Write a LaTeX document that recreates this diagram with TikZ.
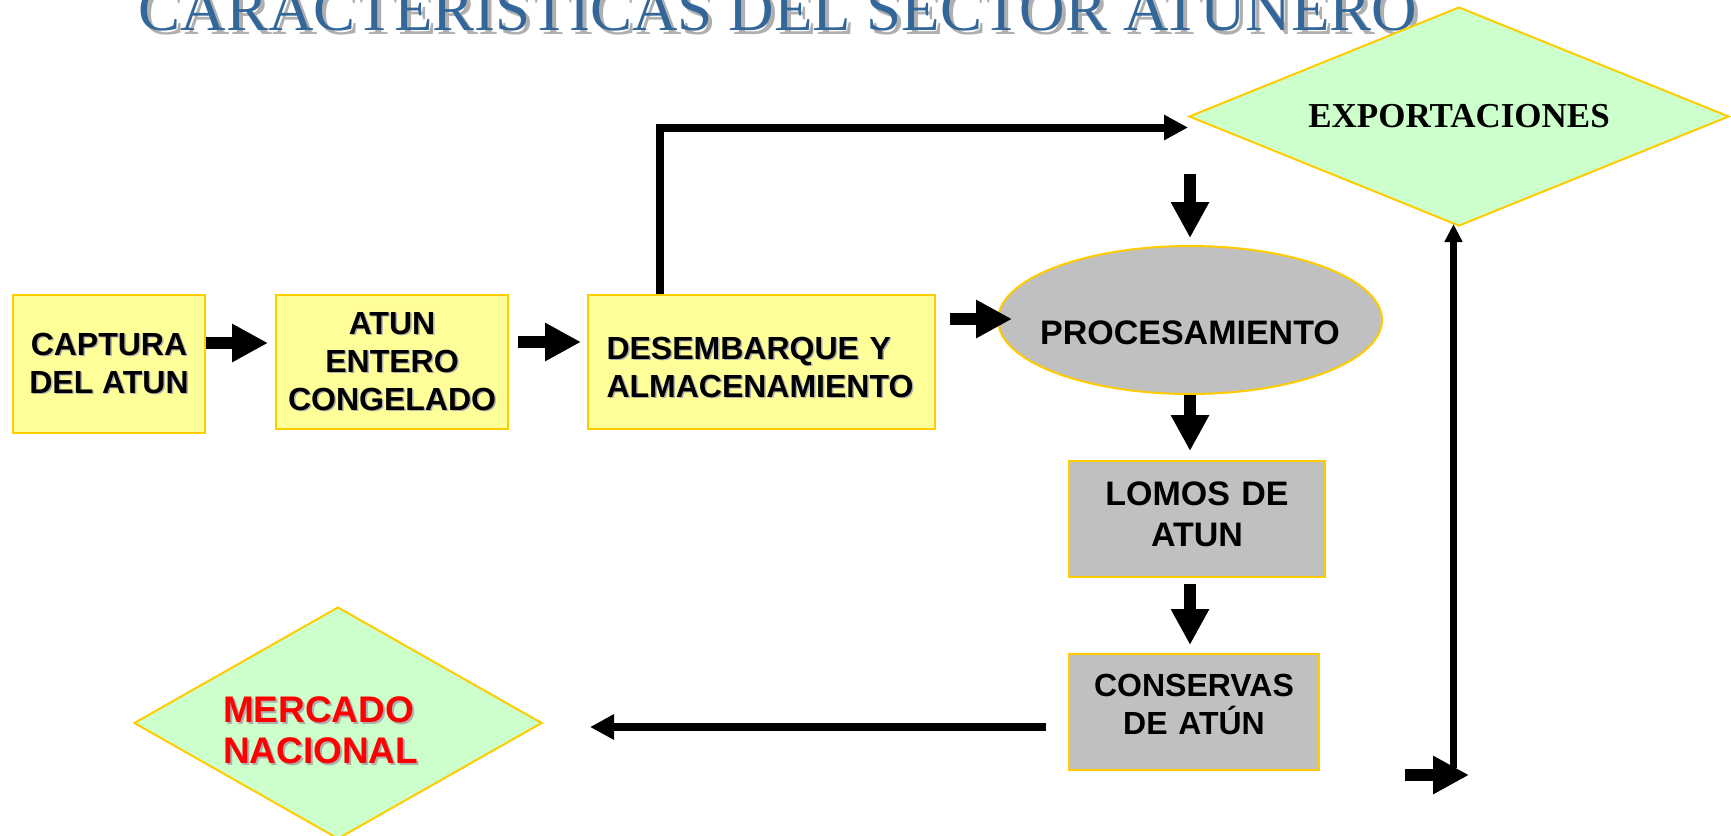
\documentclass[tikz,border=0pt]{standalone}
\usepackage{fontspec}
\setmainfont{Liberation Serif}
\setsansfont{Liberation Sans}
\usepackage{tikz}
\usetikzlibrary{shapes.geometric, arrows.meta, calc}
\definecolor{boxyellow}{RGB}{255,255,153}
\definecolor{boxgray}{RGB}{192,192,192}
\definecolor{boxgreen}{RGB}{204,255,204}
\definecolor{edgegold}{RGB}{255,204,0}
\definecolor{titleblue}{RGB}{51,102,153}
\definecolor{shadowgray}{RGB}{175,175,175}
\newcommand{\txtshadow}[2][1.5pt]{\leavevmode\rlap{\kern#1\raisebox{-#1}{\textcolor{shadowgray}{#2}}}#2}

\begin{document}
\begin{tikzpicture}[
    x=1pt, y=-1pt,
    flowbox/.style={draw=edgegold, line width=2pt, align=center, inner sep=0pt,
        font=\sffamily\bfseries\fontsize{32}{38}\selectfont},
    yellowbox/.style={flowbox, fill=boxyellow},
    graybox/.style={flowbox, fill=boxgray},
    market/.style={diamond, draw=edgegold, line width=2pt, fill=boxgreen, inner sep=0pt},
    blockarrow/.style={line width=12.5pt, -{Triangle[length=36pt, width=36pt]}},
    flowarrow/.style={line width=8pt, -{Triangle[length=24pt, width=24pt]}}
]
    \useasboundingbox (0,0) rectangle (1731,835);

    % Title
    \node[anchor=base, text=titleblue, font=\rmfamily\fontsize{63}{70}\selectfont] (title) at (778,30)
        {\txtshadow[4pt]{CARACTERISTICAS DEL SECTOR ATUNERO}};

    % Main chain
    \node[yellowbox, minimum width=192pt, minimum height=138pt] (capt) at (109,364)
        {\txtshadow{CAPTURA}\\\txtshadow{DEL ATUN}};
    \node[yellowbox, minimum width=232pt, minimum height=134pt] (atun) at (392,362)
        {\txtshadow{ATUN}\\\txtshadow{ENTERO}\\\txtshadow{CONGELADO}};
    \node[yellowbox, minimum width=347pt, minimum height=134pt, text width=310pt, align=left,
        text height=30pt, text depth=36pt] (desem) at (761.5,362)
        {\txtshadow{DESEMBARQUE Y}\\\txtshadow{ALMACENAMIENTO}};
    \node[graybox, ellipse, minimum width=384pt, minimum height=148pt, inner xsep=-45pt,
        text height=48pt, text depth=0pt,
        font=\sffamily\bfseries\fontsize{34}{41}\selectfont] (proc) at (1190,320) {PROCESAMIENTO};
    \node[graybox, minimum width=256pt, minimum height=116pt, text width=256pt,
        text height=24pt, text depth=52pt,
        font=\sffamily\bfseries\fontsize{34}{41}\selectfont] (lomos) at (1197,519) {LOMOS DE\\ATUN};
    \node[graybox, minimum width=250pt, minimum height=116pt, text width=250pt,
        text height=20pt, text depth=52pt] (cons) at (1194,712) {CONSERVAS\\DE ATÚN};

    % Markets
    \node[market, aspect=2.47, minimum width=540pt, minimum height=219pt,
        font=\rmfamily\bfseries\fontsize{35}{40}\selectfont] (exp) at (1459,116.5) {EXPORTACIONES};
    \node[market, aspect=1.76, minimum width=408pt, minimum height=232pt, text=red, text width=230pt, align=left,
        text height=36pt, text depth=38pt,
        font=\sffamily\bfseries\fontsize{37}{41}\selectfont] (merc) at (338,723)
        {\txtshadow[2pt]{MERCADO}\\\txtshadow[2pt]{NACIONAL}};

    % Flows
    \draw[blockarrow] ($(capt.east)+(0,-21)$) -- ($(atun.west)+(-7,-19)$);
    \draw[blockarrow] ($(atun.east)+(9,-20)$) -- ($(desem.west)+(-6,-20)$);
    \draw[blockarrow] ($(desem.east)+(14,-43)$) -- ($(proc.west)+(15,-1)$);
    \draw[flowarrow] ($(desem.north west)+(73,0)$) |- ($(exp.west)+(0,11)$);
    \draw[blockarrow] ($(proc.north)+(0,-71)$) -- ($(proc.north)+(0,-7)$);
    \draw[blockarrow] (proc.south) -- ($(proc.south |- lomos.north)+(0,-9)$);
    \draw[blockarrow] ($(proc.center |- lomos.south)+(0,6)$) -- ($(proc.center |- cons.north)+(0,-8)$);
    \draw[flowarrow] ($(cons.west)+(-22,15)$) -- ($(merc.east)+(47,4)$);

    % Return to exports
    \coordinate (retin) at (1405,775);
    \coordinate (retout) at (1469,775);
    \draw[blockarrow] (retin) -- (retout);
    \draw[line width=7pt, -{Triangle[length=18pt, width=17pt]}] ($(retout)+(-15.5,-7)$) -- ($(exp.south)+(-5.5,-3)$);
\end{tikzpicture}
\end{document}
